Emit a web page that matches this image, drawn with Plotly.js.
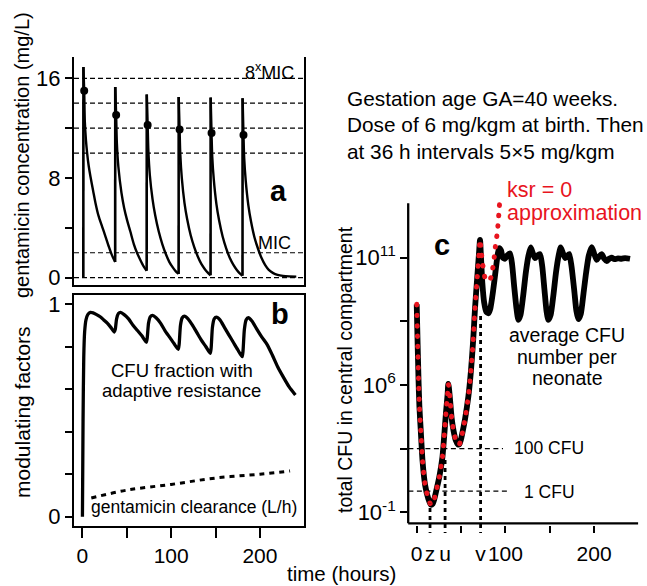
<!DOCTYPE html>
<html><head><meta charset="utf-8">
<script src="https://cdn.plot.ly/plotly-3.0.1.min.js"></script>
<style>html,body{margin:0;padding:0;background:#fff}#chart{width:647px;height:586px}</style>
</head><body><div id="chart"></div>
<script>
// ---------- Panel a: gentamicin concentration (mg/L) ----------
const concTime = [1,1.1,2,2.7,4,5.3,7,9.1,12,14.7,18,22.2,26,29.7,33,36.9,
  37,38,38.8,40.5,44,47,50.4,54,57.9,61.5,65.4,69,72.4,
  72.5,73.5,74.3,76,79,82,86,90,94,98,102,105,108.4,
  108.5,109.5,110.3,112,115,118,122,126,130,134,138,141,144.4,
  144.5,145.5,146.3,148,151,154,158,162,166,170,174,177,180.4,
  180.5,181.5,182.3,184,187,190,194,198,202,206,210,215,220,226,233,241];
const concValue = [0,16.9,15.0,12.5,11.0,10.0,9.0,8.1,7.0,6.0,5.0,4.1,3.3,2.5,1.85,1.25,
  15.3,13.06,10.8,8.9,6.8,5.6,4.6,3.7,2.7,2.0,1.4,0.9,0.55,
  14.7,12.26,10.2,8.2,6.3,5.0,3.7,2.7,1.9,1.25,0.8,0.52,0.3,
  14.5,11.9,9.9,8.0,6.0,4.7,3.4,2.45,1.7,1.1,0.68,0.42,0.19,
  14.45,11.6,9.7,7.9,5.9,4.6,3.3,2.35,1.6,1.05,0.62,0.37,0.15,
  14.4,11.45,9.6,7.8,5.8,4.5,3.2,2.3,1.55,1.0,0.62,0.36,0.22,0.14,0.1,0.08];
const peakTime = [2,38,73.5,109.5,145.5,181.5];
const peakValue = [15.0,13.06,12.26,11.9,11.6,11.45];
const refLevels = [0,2,10,12,14,16];
const concTicks = [0,8,16];
const concMinorTicks = [4,12];

// ---------- Panel b: modulating factors ----------
const fracTime = [0,0.7,1.5,2.5,4,6,9,12,16,20,24,28,32,36,
  37,38.5,40.5,43,47,52,57,62,67,72,
  73,74.5,76.5,79,83,88,93,98,103,108,
  109,110.5,112.5,115,119,124,129,134,139,144,
  145,146.5,148.5,151,155,160,165,170,175,180,
  181,182.5,184.5,187,191,196,202,208,214,220,226.6,233,240];
const fracValue = [0,0.45,0.75,0.87,0.925,0.95,0.96,0.958,0.95,0.94,0.925,0.91,0.89,0.868,
  0.88,0.93,0.955,0.96,0.95,0.93,0.9,0.875,0.85,0.82,
  0.84,0.91,0.94,0.946,0.935,0.91,0.875,0.845,0.815,0.787,
  0.81,0.9,0.935,0.943,0.93,0.9,0.865,0.83,0.8,0.768,
  0.79,0.89,0.93,0.938,0.925,0.89,0.855,0.82,0.785,0.752,
  0.78,0.88,0.925,0.935,0.92,0.885,0.845,0.81,0.76,0.705,0.655,0.61,0.572];
const clrTime = [10,50,100,150,200,234];
const clrValue = [0.088,0.125,0.152,0.182,0.2,0.215];
const fracTicks = [0,1];
const fracMinorTicks = [0.2,0.4,0.6,0.8];
const timeTicks = [0,100,200];
const timeMinorTicks = [50,150];

// ---------- Panel c: total CFU (log10) ----------
const cfuTime = [0,1,2,3,4.5,6.6,9.5,13,16,18,20,22.5,25.5,29,31,33,34.8,35.6,36.5,37.6,
  39.5,41.5,44,46.5,48,50,52,54.5,58.2,61.2,63.8,65.7,68.3,70.2,71.4,72.5,74,76,78.5,80.8,
  83,86,89,91.5,93.2,95,97,99.6,102,105.2,107.5,110,112.5,114.6,117,120,123,126,128.5,131,
  133.4,136,139,141.5,144,146.3,148.4,151,154,157,160,162.3,165,167.5,170,172,174.5,177.5,180,182.2,
  185,188,191,194,197.3,200,202.9,205.5,208.5,211.5,214.2,217,219.8,223,227,231,235,240.5];
const cfuLog10 = [8.8,7.0,5.3,4.0,2.9,1.4,0.28,-0.35,-0.64,-0.6,-0.35,0.1,0.67,1.6,2.6,3.7,4.55,5.05,4.8,4.3,
  3.4,2.85,2.4,2.2,2.2,2.45,2.85,3.4,4.45,5.7,7.2,8.6,10.1,11.2,11.84,11.0,9.8,8.9,8.45,8.38,
  8.6,9.4,10.4,11.2,11.45,11.35,11.0,10.95,11.1,11.2,10.7,9.6,8.6,8.07,8.3,9.2,10.3,11.1,11.48,11.2,
  10.98,11.1,11.17,10.6,9.5,8.5,8.07,8.3,9.2,10.3,11.1,11.48,11.2,10.98,11.1,11.17,10.6,9.5,8.5,8.1,
  8.35,9.3,10.3,11.1,11.5,11.2,10.9,11.05,11.17,10.95,10.84,10.95,11.0,10.93,10.97,10.95,10.98,10.95];
const ksrSplitTime = 71.4;
const ksrTailTime = [73,74.5,77,80,82.6,85.7,87.5,89,90.9,92,93,93.9];
const ksrTailLog10 = [11.2,10.66,10.06,9.9,9.95,10.5,11.05,11.64,12.2,12.75,13.3,13.9];
const markTime = [15,32,72];
const markLabel = ['z','u','v'];
const markTopLog10 = [-0.6,1.5,8.4];
const thresholdCFU = [100,1];
const thresholdLabel = ['100 CFU','1 CFU'];
const cfuTicks = [1e-1,1e5,1e11];
const cfuTickText = ['10<sup>-1</sup>','10<sup>6</sup>','10<sup>11</sup>'];
const cfuMinorTicks = [1e2,1e8];

// ---------- build ----------
const FONT = 'Liberation Sans, Arial, Helvetica, sans-serif';
const RED = 'rgb(232,20,30)';
const px = v => v/647, py = v => 1 - v/586;
const XR = [-9.5, 249.7];

const ksrTime = [], ksrLog = [];
cfuTime.forEach((t,i)=>{ if(t<=ksrSplitTime){ ksrTime.push(t); ksrLog.push(cfuLog10[i]); } });
ksrTailTime.forEach((t,i)=>{ ksrTime.push(t); ksrLog.push(ksrTailLog10[i]); });
const pow10 = a => a.map(v=>Math.pow(10,v));

const traces = [];
// panel a: split into dose jumps (straight) and decays (smooth)
let segStart = 0;
const segs = [];
for(let i=1;i<concValue.length;i++){
  if(concValue[i] > concValue[i-1] + 5){ segs.push([segStart, i-1]); segs.push(['jump', i-1, i]); segStart = i; }
}
segs.push([segStart, concValue.length-1]);
segs.forEach(s=>{
  if(s[0]==='jump'){
    traces.push({x:[concTime[s[1]],concTime[s[2]]], y:[concValue[s[1]],concValue[s[2]]], xaxis:'x', yaxis:'y', mode:'lines', line:{color:'#000', width:2.6}, hoverinfo:'skip'});
  } else if(s[1] > s[0]) {
    traces.push({x:concTime.slice(s[0], s[1]+1), y:concValue.slice(s[0], s[1]+1), xaxis:'x', yaxis:'y', mode:'lines', line:{color:'#000', width:2.4, shape:'spline', smoothing:0.8}, hoverinfo:'skip'});
  }
});
traces.push({x:peakTime, y:peakValue, xaxis:'x', yaxis:'y', mode:'markers', marker:{color:'#000', size:8}, hoverinfo:'skip'});
// panel b
traces.push({x:fracTime, y:fracValue, xaxis:'x2', yaxis:'y2', mode:'lines', line:{color:'#000', width:3.3, shape:'spline', smoothing:0.6}, hoverinfo:'skip'});
traces.push({x:clrTime, y:clrValue, xaxis:'x2', yaxis:'y2', mode:'lines', line:{color:'#000', width:3, dash:'5px,5px', shape:'spline'}, hoverinfo:'skip'});
// panel c thresholds
const thrEnd = [97.3, 105.2];
thresholdCFU.forEach((v,i)=>{
  traces.push({x:[XR[0]+0.1, thrEnd[i]], y:[v,v], xaxis:'x3', yaxis:'y3', mode:'lines', line:{color:'#000', width:1.2, dash:'5px,3.5px'}, hoverinfo:'skip'});
});
// vertical markers z,u,v
markTime.forEach((t,i)=>{
  traces.push({x:[t,t], y:[1e-4, Math.pow(10,markTopLog10[i])], xaxis:'x4', yaxis:'y3', mode:'lines', line:{color:'#000', width:2.8, dash:'4px,4px'}, hoverinfo:'skip'});
});
traces.push({x:cfuTime, y:pow10(cfuLog10), xaxis:'x3', yaxis:'y3', mode:'lines', line:{color:'#000', width:5.8, shape:'spline', smoothing:0.6}, hoverinfo:'skip'});
traces.push({x:ksrTime, y:pow10(ksrLog), xaxis:'x3', yaxis:'y3', mode:'lines', line:{color:RED, width:5, dash:'0.5px,10px', shape:'spline', smoothing:0.6}, hoverinfo:'skip'});

const axBase = {showgrid:false, zeroline:false, linecolor:'#000', linewidth:2.2, tickcolor:'#000', tickwidth:2, fixedrange:true, tickmode:'array'};
const minor = (vals, len, dir) => ({tickmode:'array', tickvals:vals, ticks:dir||'outside', ticklen:len, tickwidth:2, tickcolor:'#000', showgrid:false});
const layout = {
  width:647, height:586, margin:{l:0,r:0,t:0,b:0}, paper_bgcolor:'#fff', plot_bgcolor:'rgba(0,0,0,0)',
  showlegend:false, font:{family:FONT, color:'#000'},
  xaxis: Object.assign({}, axBase, {domain:[px(74),px(304)], anchor:'y', range:XR, showline:true, ticks:'', showticklabels:false}),
  yaxis: Object.assign({}, axBase, {domain:[py(285),py(57)], anchor:'x', range:[-0.59,17.71], showline:true, mirror:true,
    ticks:'outside', ticklen:7, tickvals:concTicks, ticktext:concTicks.map(String), tickfont:{size:22}, minor:minor(concMinorTicks,7)}),
  xaxis2: Object.assign({}, axBase, {domain:[px(74),px(304)], anchor:'y2', range:XR, showline:true, mirror:true,
    ticks:'outside', ticklen:10, tickvals:timeTicks, ticktext:timeTicks.map(String), tickfont:{size:21}, minor:minor(timeMinorTicks,10)}),
  yaxis2: Object.assign({}, axBase, {domain:[py(525.7),py(295)], anchor:'x2', range:[-0.042,1.042], showline:true, mirror:true,
    ticks:'outside', ticklen:7, tickvals:fracTicks, ticktext:fracTicks.map(String), tickfont:{size:22}, minor:minor(fracMinorTicks,7)}),
  xaxis3: Object.assign({}, axBase, {domain:[px(408.2),px(638.1)], anchor:'y3', range:[-9.6,249.6], showline:false,
    ticks:'inside', ticklen:7, tickvals:timeTicks, ticktext:timeTicks.map(String), tickfont:{size:21}, ticklabelstandoff:6, minor:minor(timeMinorTicks,7,'inside')}),
  xaxis4: Object.assign({}, axBase, {domain:[px(408.2),px(638.1)], anchor:'y3', overlaying:'x3', side:'bottom', range:[-9.6,249.6], showline:false,
    ticks:'', tickvals:markTime, ticktext:markLabel, tickfont:{size:21}, ticklabelstandoff:6}),
  yaxis3: Object.assign({}, axBase, {domain:[py(533),py(192.2)], anchor:'x3', type:'log', range:[-1.976,14.087], showline:false,
    ticks:'outside', ticklen:7, tickvals:cfuTicks, ticktext:cfuTickText, tickfont:{size:22}, minor:minor(cfuMinorTicks,7)}),
  shapes: [],
  annotations: []
};
refLevels.forEach(v=>layout.shapes.push({type:'line', xref:'x domain', yref:'y', x0:0, x1:1, y0:v, y1:v, layer:'below', line:{color:'#000', width:1.2, dash:'5px,3px'}}));
// panel c axis lines
layout.shapes.push({type:'line', xref:'x3 domain', yref:'y3 domain', x0:0, x1:0, y0:0.0285, y1:0.9674, line:{color:'#000', width:2.3}});
layout.shapes.push({type:'line', xref:'x3 domain', yref:'y3 domain', x0:0, x1:1, y0:0.0285, y1:0.0285, line:{color:'#000', width:2.3}});

const A = (text, x, y, o={}) => Object.assign({text, x:px(x), y:py(y), xref:'paper', yref:'paper', showarrow:false, xanchor:'center', yanchor:'middle', font:{size:19, color:'#000', family:FONT}}, o);
const F = (size, color) => ({size, family:FONT, color:color||'#000'});
layout.annotations.push(
  A('gentamicin concentration (mg/L)', 22, 155, {textangle:-90, font:F(20)}),
  A('modulating factors', 22, 412, {textangle:-90, font:F(21)}),
  A('total CFU in central compartment', 345, 370, {textangle:-90, font:F(19.5)}),
  A('time (hours)', 341, 573, {font:F(20.5)}),
  A('Gestation age GA=40 weeks.', 345, 98, {xanchor:'left', font:F(20.8)}),
  A('Dose of 6 mg/kgm at birth. Then', 345, 125, {xanchor:'left', font:F(20.8)}),
  A('at 36 h intervals 5×5 mg/kgm', 345, 152, {xanchor:'left', font:F(20.8)}),
  A('8<sup>x</sup>MIC', 296, 71, {xanchor:'right', font:F(18)}),
  A('MIC', 293, 243, {xanchor:'right', font:F(18)}),
  A('<b>a</b>', 278, 191, {font:F(29)}),
  A('<b>b</b>', 280, 314, {font:F(29)}),
  A('<b>c</b>', 442, 245, {font:F(29)}),
  A('CFU fraction with', 182, 370, {font:F(18.5)}),
  A('adaptive resistance', 182, 390, {font:F(18.5)}),
  A('gentamicin clearance (L/h)', 193.5, 507, {font:F(17.5)}),
  A('average CFU', 566.7, 335, {font:F(19.5)}),
  A('number per', 567, 356.7, {font:F(19.5)}),
  A('neonate', 567, 378, {font:F(19.5)}),
  A('ksr = 0', 505, 190, {xanchor:'left', font:F(21.5, RED)}),
  A('approximation', 505, 212.5, {xanchor:'left', font:F(21.5, RED)}),
  A(thresholdLabel[0], 511.7, 447.7, {xanchor:'left', font:F(17.5)}),
  A(thresholdLabel[1], 521.7, 491.7, {xanchor:'left', font:F(17.5)})
);

Plotly.newPlot('chart', traces, layout, {staticPlot:true, displayModeBar:false}).then(gd=>{
  gd.querySelectorAll('path.js-line').forEach(p=>{
    if((p.style.stroke||'').replace(/\s/g,'') === RED.replace(/\s/g,'')) p.style.strokeLinecap = 'round';
  });
});
</script></body></html>
